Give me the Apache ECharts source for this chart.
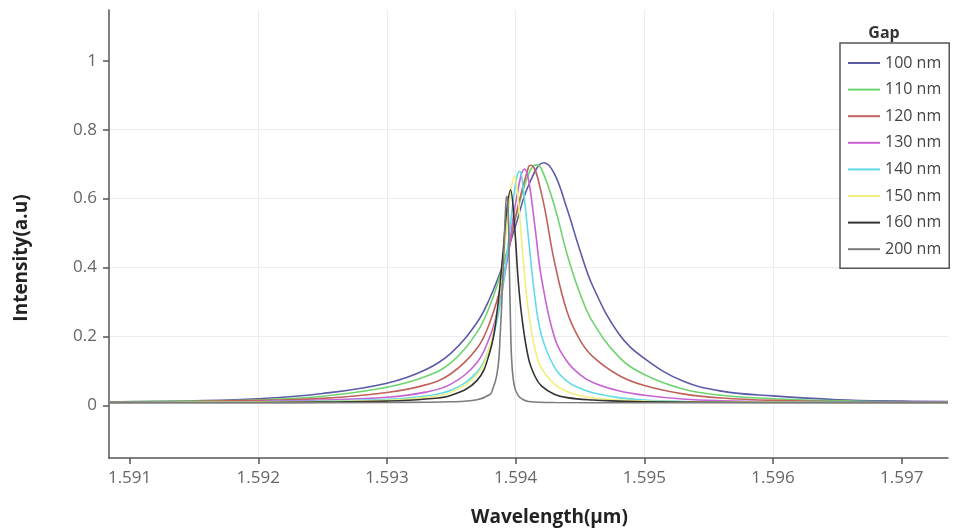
<!DOCTYPE html>
<html>
<head>
<meta charset="utf-8">
<title>Intensity vs wavelength for different gaps</title>
<script src="https://cdn.jsdelivr.net/npm/echarts@6/dist/echarts.min.js"></script>
<style>
html, body { margin: 0; padding: 0; background: #fff; }
#chart { width: 957px; height: 532px; }
</style>
</head>
<body>
<div id="chart"></div>
<script>
// spectra: [wavelength (um), intensity (a.u)]
var gap100 = [[1.59084,0.011],[1.5915,0.014],[1.592,0.020],[1.5925,0.035],[1.593,0.065],[1.5933,0.104],[1.5935,0.153],
    [1.5937,0.241],[1.5938,0.312],[1.5939,0.406],[1.594,0.522],[1.5941,0.638],[1.59422,0.704],[1.5943,0.673],[1.5944,0.570],
    [1.5945,0.450],[1.5946,0.346],[1.5948,0.209],[1.595,0.137],[1.5953,0.071],[1.5956,0.042],[1.596,0.028],[1.5965,0.017],
    [1.597,0.013],[1.59736,0.012]];
var gap110 = [[1.59084,0.011],[1.5915,0.013],[1.592,0.017],[1.5925,0.027],[1.593,0.053],[1.5933,0.084],[1.5935,0.125],
    [1.5937,0.213],[1.5938,0.290],[1.5939,0.402],[1.594,0.545],[1.5941,0.671],[1.59416,0.698],[1.5942,0.687],[1.5943,0.581],
    [1.5944,0.439],[1.5945,0.325],[1.5946,0.242],[1.5948,0.142],[1.595,0.090],[1.5953,0.048],[1.5956,0.030],[1.596,0.020],
    [1.5965,0.014],[1.597,0.011],[1.59736,0.010]];
var gap120 = [[1.59084,0.010],[1.5915,0.012],[1.592,0.015],[1.5925,0.021],[1.593,0.038],[1.5933,0.060],[1.5935,0.093],
    [1.5937,0.166],[1.5938,0.242],[1.5939,0.367],[1.594,0.549],[1.5941,0.692],[1.59412,0.697],[1.5942,0.616],[1.5943,0.420],
    [1.5944,0.272],[1.5945,0.190],[1.5946,0.142],[1.5948,0.088],[1.595,0.058],[1.5953,0.034],[1.5956,0.022],[1.596,0.015],
    [1.5965,0.012],[1.597,0.010],[1.59736,0.010]];
var gap130 = [[1.59084,0.009],[1.5915,0.011],[1.592,0.012],[1.5925,0.016],[1.593,0.024],[1.5933,0.039],[1.5935,0.063],
    [1.5937,0.125],[1.5938,0.200],[1.59385,0.261],[1.5939,0.347],[1.59395,0.460],[1.594,0.587],[1.59407,0.686],[1.5941,0.656],
    [1.59415,0.519],[1.5942,0.372],[1.5943,0.200],[1.5944,0.128],[1.5945,0.090],[1.5946,0.067],[1.5948,0.043],[1.595,0.030],
    [1.5953,0.019],[1.5956,0.014],[1.596,0.011],[1.5965,0.010],[1.597,0.010],[1.59736,0.010]];
var gap140 = [[1.59084,0.009],[1.5915,0.010],[1.592,0.011],[1.5925,0.013],[1.593,0.018],[1.5933,0.028],[1.5935,0.045],
    [1.5937,0.097],[1.5938,0.170],[1.59385,0.237],[1.5939,0.343],[1.59395,0.494],[1.594,0.645],[1.59403,0.679],[1.59405,0.657],
    [1.5941,0.485],[1.59415,0.314],[1.5942,0.205],[1.5943,0.112],[1.5944,0.070],[1.5945,0.050],[1.5946,0.037],[1.5948,0.023],
    [1.595,0.016],[1.5953,0.012],[1.5956,0.011],[1.596,0.010],[1.5965,0.010],[1.597,0.009],[1.59736,0.009]];
var gap150 = [[1.59084,0.009],[1.5915,0.010],[1.592,0.010],[1.5925,0.012],[1.593,0.015],[1.5933,0.024],[1.5935,0.039],
    [1.5937,0.090],[1.5938,0.172],[1.59385,0.257],[1.5939,0.401],[1.59395,0.587],[1.59399,0.664],[1.59402,0.598],[1.59405,0.462],
    [1.5941,0.270],[1.59415,0.165],[1.5942,0.109],[1.5943,0.063],[1.5944,0.041],[1.5945,0.029],[1.5946,0.022],[1.5948,0.016],
    [1.595,0.013],[1.5953,0.011],[1.5956,0.010],[1.596,0.010],[1.5965,0.009],[1.597,0.009],[1.59736,0.009]];
var gap160 = [[1.59084,0.009],[1.5915,0.009],[1.592,0.009],[1.5925,0.010],[1.593,0.013],[1.5933,0.019],[1.5935,0.030],
    [1.5937,0.073],[1.5938,0.156],[1.59385,0.255],[1.5939,0.435],[1.59393,0.563],[1.59396,0.625],[1.59399,0.529],[1.59402,0.363],
    [1.59405,0.252],[1.5941,0.137],[1.59415,0.085],[1.5942,0.057],[1.5943,0.033],[1.5944,0.023],[1.5946,0.016],[1.5948,0.013],
    [1.595,0.011],[1.596,0.009],[1.597,0.009],[1.59736,0.009]];
var gap200 = [[1.59084,0.008],[1.592,0.008],[1.593,0.009],[1.5935,0.011],[1.5937,0.017],[1.5938,0.032],[1.59382,0.046],
    [1.59385,0.082],[1.59387,0.137],[1.59388,0.207],[1.59389,0.277],[1.59391,0.457],[1.59392,0.557],[1.59393,0.607],
    [1.59394,0.587],[1.59395,0.427],[1.59396,0.242],[1.59397,0.127],[1.59399,0.057],[1.59402,0.029],[1.59406,0.017],
    [1.5941,0.012],[1.5943,0.009],[1.595,0.008],[1.596,0.008],[1.597,0.008],[1.59736,0.008]];

var gapNames = ['100 nm', '110 nm', '120 nm', '130 nm', '140 nm', '150 nm', '160 nm', '200 nm'];
var gapColors = ['#5b5ba8', '#6fd46f', '#c0625c', '#c862d4', '#62dbe8', '#f2ee7c', '#333333', '#7c7c7c'];
var gapData = [gap100, gap110, gap120, gap130, gap140, gap150, gap160, gap200];

var xTicks = [1.591, 1.592, 1.593, 1.594, 1.595, 1.596, 1.597];
var yTicks = [0, 0.2, 0.4, 0.6, 0.8, 1];

var series = [];
for (var i = 0; i < gapNames.length; i ++){
    series.push({
        type: 'line',
        name: gapNames[i],
        data: gapData[i],
        symbol: 'none',
        smooth: 0.4,
        color: gapColors[i],
        lineStyle: {width: 1.6, color: gapColors[i]}
    });
}

var axisColor = '#555';
var option = {
    animation: false,
    backgroundColor: '#fff',
    grid: {left: 109, right: 9, top: 10, bottom: 74},
    graphic: [{
        type: 'text',
        x: 884, y: 33,
        style: {text: 'Gap', fontSize: 16, fontWeight: 'bold', fill: '#333',
                fontFamily: 'Open Sans', align: 'center', verticalAlign: 'middle'}
    }],
    legend: {
        orient: 'vertical',
        left: 840, top: 43,
        padding: [12, 8, 11, 8],
        icon: 'rect',
        itemWidth: 32, itemHeight: 2, itemGap: 10.6,
        borderColor: axisColor, borderWidth: 1.5,
        backgroundColor: '#fff',
        textStyle: {fontSize: 16, color: '#444', fontFamily: 'Open Sans', lineHeight: 16},
        data: gapNames
    },
    xAxis: {
        type: 'value',
        min: 1.59084, max: 1.59736,
        name: 'Wavelength(μm)',
        nameLocation: 'middle',
        nameGap: 50,
        nameTextStyle: {fontFamily: 'Open Sans', fontWeight: 'bold', fontSize: 19, color: '#222', padding: [0, 0, 0, 42]},
        axisLine: {onZero: false, lineStyle: {color: axisColor, width: 1.5}},
        axisTick: {customValues: xTicks, length: 6, lineStyle: {color: axisColor, width: 1.5}},
        axisLabel: {customValues: xTicks, margin: 12, fontSize: 17, color: '#666', fontFamily: 'Open Sans'},
        splitLine: {show: true, showMinLine: false, showMaxLine: false, lineStyle: {color: '#ececec'}}
    },
    yAxis: {
        type: 'value',
        min: -0.152, max: 1.147,
        name: 'Intensity(a.u)',
        nameLocation: 'middle',
        nameGap: 78,
        nameTextStyle: {fontFamily: 'Open Sans', fontWeight: 'bold', fontSize: 19, color: '#222', padding: [0, 48, 0, 0]},
        axisLine: {show: true, lineStyle: {color: axisColor, width: 1.5}},
        axisTick: {show: true, customValues: yTicks, length: 6, lineStyle: {color: axisColor, width: 1.5}},
        axisLabel: {customValues: yTicks, margin: 12, fontSize: 17, color: '#666', fontFamily: 'Open Sans'},
        splitLine: {show: true, showMinLine: false, showMaxLine: false, lineStyle: {color: '#ececec'}}
    },
    series: series
};

var chart = echarts.init(document.getElementById('chart'));
chart.setOption(option);
</script>
</body>
</html>
